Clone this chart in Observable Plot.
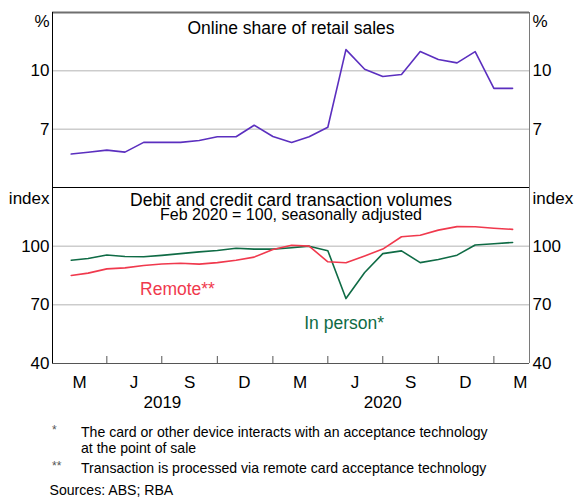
<!DOCTYPE html>
<html><head><meta charset="utf-8">
<script src="https://cdn.jsdelivr.net/npm/d3@7"></script>
<script src="https://cdn.jsdelivr.net/npm/@observablehq/plot@0.6"></script>
<style>
body{margin:0;background:#fff;font-family:"Liberation Sans",Arial,sans-serif;}
#wrap{position:relative;width:574px;height:497px;overflow:hidden;}
#wrap svg{display:block;}
.fn{position:absolute;font-size:14.1px;line-height:16.3px;color:#000;white-space:nowrap;}
.ast{position:absolute;font-size:12px;line-height:12px;color:#555;}
</style></head><body><div id="wrap"></div>
<script>
// ---- data (monthly, Jan 2019 - Jan 2021) ----
const months = ["2019-01","2019-02","2019-03","2019-04","2019-05","2019-06","2019-07","2019-08","2019-09","2019-10","2019-11","2019-12",
  "2020-01","2020-02","2020-03","2020-04","2020-05","2020-06","2020-07","2020-08","2020-09","2020-10","2020-11","2020-12","2021-01"];
const onlineShare = [5.72,5.81,5.92,5.82,6.32,6.32,6.32,6.42,6.61,6.61,7.20,6.62,6.32,6.61,7.10,11.09,10.08,9.71,9.81,10.99,10.58,10.41,10.99,9.10,9.10];
const inPerson = [92.8,93.7,95.5,94.7,94.6,95.3,96.2,97.1,97.8,98.9,98.5,98.5,99.2,100.0,97.7,73.2,86.5,96.2,97.6,91.6,93.2,95.4,100.6,101.2,101.9];
const remote = [85.0,86.2,88.4,88.9,90.1,90.9,91.3,90.8,91.6,92.8,94.4,98.3,100.5,100.0,92.0,91.5,95.0,98.5,104.8,105.6,108.2,110.0,109.9,109.2,108.6];

const quarterTicks = ["2019-04-01","2019-07-01","2019-10-01","2020-01-01","2020-04-01","2020-07-01","2020-10-01","2021-01-01"];
const quarterLabelDates = ["2019-02-15","2019-05-16","2019-08-16","2019-11-15","2020-02-15","2020-05-16","2020-08-16","2020-11-15","2021-02-14"];
const quarterLabels = ["M","J","S","D","M","J","S","D","M"];
const yearLabelDates = ["2019-07-02","2020-07-01"];
const yearLabels = ["2019","2020"];

const topTicks = [7,10];
const bottomTicks = [40,70,100];
const topTitle = "Online share of retail sales";
const bottomTitle = "Debit and credit card transaction volumes";
const bottomSubtitle = "Feb 2020 = 100, seasonally adjusted";
const seriesLabels = [
  {name:"Remote**", date:"2019-07-27", value:77.7, color:"#f0394d"},
  {name:"In person*", date:"2020-04-28", value:60.6, color:"#0f6b45"}
];

// ---- build ----
const font = '"Liberation Sans", Arial, sans-serif';
const xDomain = [new Date("2019-01-01"), new Date("2021-03-01")];
const data = months.map((m,i)=>({
  date: d3.utcMonth.offset(new Date(m+"-01"),1),
  online: onlineShare[i], inPerson: inPerson[i], remote: remote[i]
}));
const purple = "#5b2fbf", red = "#f0394d", green = "#0f6b45";
const grid = "#b4b4b4";

const topPlot = Plot.plot({
  width:574, height:187, marginLeft:52, marginRight:45, marginTop:12, marginBottom:0,
  style:{fontFamily:font, fontSize:"17px", background:"transparent", overflow:"visible"},
  x:{type:"utc", domain:xDomain, axis:null},
  y:{domain:[4,13]},
  marks:[
    Plot.gridY(topTicks, {stroke:grid, strokeOpacity:1}),
    Plot.axisY(topTicks, {anchor:"left", tickSize:0, tickPadding:3, label:null, fontSize:17}),
    Plot.axisY(topTicks, {anchor:"right", tickSize:0, tickPadding:3, label:null, fontSize:17}),
    Plot.text(["%"], {text:d=>d, frameAnchor:"top-left", lineAnchor:"middle", textAnchor:"end", dx:-3, dy:8.6, fontSize:17}),
    Plot.text(["%"], {text:d=>d, frameAnchor:"top-right", lineAnchor:"middle", textAnchor:"start", dx:3, dy:8.6, fontSize:17}),
    Plot.text([topTitle], {text:d=>d, frameAnchor:"top", lineAnchor:"middle", dy:15.7, fontSize:17.5}),
    Plot.line(data, {x:"date", y:"online", stroke:purple, strokeWidth:1.6}),
    Plot.ruleY([4], {stroke:"#000"}),
    Plot.ruleY([13], {stroke:"#6f6f6f", strokeWidth:2}),
    Plot.ruleX([xDomain[0]], {stroke:"#000"}),
    Plot.ruleX([xDomain[1]], {stroke:"#7a7a7a"})
  ]
});

const labelRows = quarterLabelDates.map((d,i)=>({date:new Date(d), label:quarterLabels[i]}));
const yearRows = yearLabelDates.map((d,i)=>({date:new Date(d), label:yearLabels[i]}));

const bottomPlot = Plot.plot({
  width:574, height:230, marginLeft:52, marginRight:45, marginTop:0, marginBottom:54,
  style:{fontFamily:font, fontSize:"17px", background:"transparent", overflow:"visible"},
  x:{type:"utc", domain:xDomain, axis:null},
  y:{domain:[40,130]},
  marks:[
    Plot.gridY([70,100], {stroke:grid, strokeOpacity:1}),
    Plot.axisY(bottomTicks, {anchor:"left", tickSize:0, tickPadding:3, label:null, fontSize:17}),
    Plot.axisY(bottomTicks, {anchor:"right", tickSize:0, tickPadding:3, label:null, fontSize:17}),
    Plot.text(["index"], {text:d=>d, frameAnchor:"top-left", lineAnchor:"middle", textAnchor:"end", dx:-3, dy:11, fontSize:17}),
    Plot.text(["index"], {text:d=>d, frameAnchor:"top-right", lineAnchor:"middle", textAnchor:"start", dx:3, dy:11, fontSize:17}),
    Plot.text([bottomTitle], {text:d=>d, frameAnchor:"top", lineAnchor:"middle", dy:12.4, fontSize:17.5}),
    Plot.text([bottomSubtitle], {text:d=>d, frameAnchor:"top", lineAnchor:"middle", dy:27, fontSize:16}),
    Plot.tickX(quarterTicks.map(d=>new Date(d)), {x:d=>d, insetTop:169, stroke:"#555"}),
    Plot.line(data, {x:"date", y:"inPerson", stroke:green, strokeWidth:1.6}),
    Plot.line(data, {x:"date", y:"remote", stroke:red, strokeWidth:1.6}),
    Plot.text(seriesLabels, {x:d=>new Date(d.date), y:"value", text:"name", fill:"color", fontSize:17.5}),
    Plot.ruleY([40], {stroke:"#555"}),
    Plot.ruleX([xDomain[0]], {stroke:"#000"}),
    Plot.ruleX([xDomain[1]], {stroke:"#7a7a7a"}),
    Plot.text(labelRows, {x:"date", text:"label", frameAnchor:"bottom", lineAnchor:"top", dy:12, fontSize:17}),
    Plot.text(yearRows, {x:"date", text:"label", frameAnchor:"bottom", lineAnchor:"top", dy:32, fontSize:17})
  ]
});

const wrap = document.getElementById("wrap");
wrap.appendChild(topPlot);
wrap.appendChild(bottomPlot);

function addDiv(cls, text, left, top){
  const d = document.createElement("div");
  d.className = cls; d.textContent = text;
  d.style.left = left+"px"; d.style.top = top+"px";
  wrap.appendChild(d);
}
addDiv("ast","*",52,424);
addDiv("fn","The card or other device interacts with an acceptance technology",81,424);
addDiv("fn","at the point of sale",81,440.3);
addDiv("ast","**",52,460.3);
addDiv("fn","Transaction is processed via remote card acceptance technology",81,460.3);
addDiv("fn","Sources: ABS; RBA",49.5,482);
</script></body></html>
